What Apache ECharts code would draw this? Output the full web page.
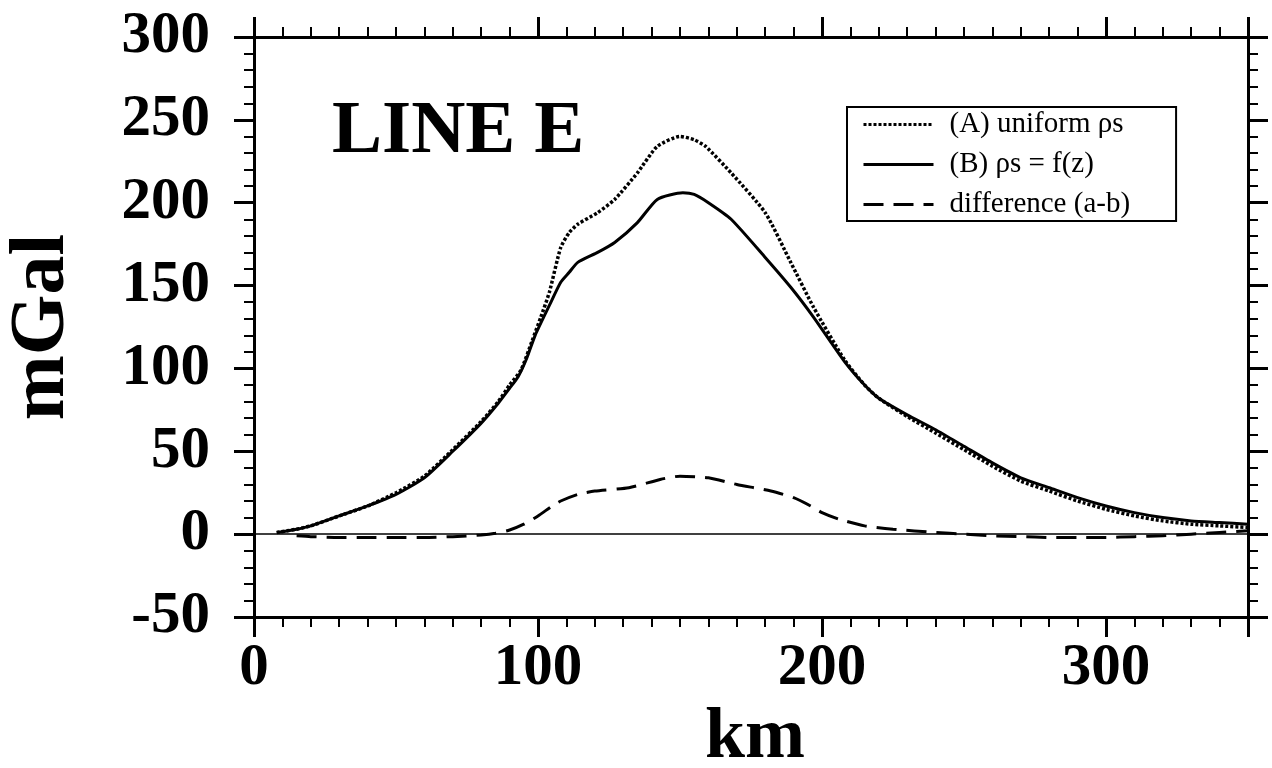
<!DOCTYPE html>
<html>
<head>
<meta charset="utf-8">
<title>LINE E</title>
<script src="https://cdn.jsdelivr.net/npm/echarts@6/dist/echarts.min.js"></script>
<style>
	html, body { margin: 0; padding: 0; background: #fff; }
	#main { width: 1272px; height: 768px; }
</style>
</head>
<body>
<div id="main"></div>
<script>
//数据
var kmA = [8, 15, 20, 30, 40, 50, 60, 70, 80, 86, 90, 94, 98, 101, 104, 108, 111, 114, 121, 127, 135, 142, 150, 155, 159, 168, 180, 189, 197, 208, 215, 220, 230, 240, 250, 260, 270, 280, 290, 300, 310, 320, 330, 340, 350];
var valA = [1, 3, 5, 11, 17, 25, 35, 51, 68, 80, 90, 99, 117, 131, 146, 173, 182, 187, 194, 202, 218, 234, 240, 238, 234, 218, 194, 164, 137, 105, 90, 82, 71, 61, 51, 41, 32, 26, 20, 15, 11, 8, 6, 5, 4];

var kmB = [8, 15, 20, 30, 40, 50, 60, 70, 80, 86, 90, 93, 96, 99, 104, 108, 111, 114, 121, 127, 135, 142, 151, 155, 160, 168, 180, 189, 197, 208, 215, 220, 230, 240, 250, 260, 270, 280, 290, 300, 310, 320, 330, 340, 350];
var valB = [1, 3, 5, 11, 17, 24, 34, 50, 67, 79, 88, 95, 106, 120, 138, 152, 158, 164, 170, 176, 188, 202, 206, 205, 200, 190, 167, 149, 131, 104, 90, 82, 72, 63, 53, 43, 34, 28, 22, 17, 13, 10, 8, 7, 6];

var kmD = [15, 20, 30, 40, 50, 60, 70, 80, 85, 90, 95, 100, 105, 108, 114, 120, 132, 143, 150, 160, 170, 182, 190, 196, 200, 206, 215, 225, 240, 250, 260, 270, 280, 290, 300, 310, 320, 330, 340, 350];
var valD = [-1, -1.5, -2, -2, -2, -2, -1.5, -0.5, 0.5, 2.5, 6, 11, 17, 20, 24, 26, 28, 33, 35, 34, 30, 26, 22, 17, 13, 9, 5, 3, 1, 0, -1, -1.5, -2, -2, -2, -1.5, -1, 0, 1, 2];

var names = ['(A) uniform ρs', '(B) ρs = f(z)', 'difference (a-b)'];

function pairs(xs, ys) {
	var out = [];
	for (var i = 0; i < xs.length; i++) out.push([xs[i], ys[i]]);
	return out;
}

var serif = '"Liberation Serif", "Times New Roman", serif';

// 坐标轴 (四边都有刻度)
function axis(type, pos, show) {
	var isX = type == 'x';
	return {
		type: 'value',
		position: pos,
		min: isX ? 0 : -50,
		max: isX ? 350 : 300,
		interval: isX ? 100 : 50,
		axisLine: { show: true, onZero: false, lineStyle: { color: '#000', width: 3 } },
		axisTick: { show: true, inside: false, length: 20, lineStyle: { color: '#000', width: 3 } },
		minorTick: { show: true, splitNumber: isX ? 10 : 5, length: 10, lineStyle: { color: '#000', width: 2 } },
		splitLine: { show: false },
		axisLabel: {
			show: show,
			showMaxLabel: !isX,
			margin: isX ? 22 : 44,
			color: '#000',
			fontFamily: serif,
			fontWeight: 'bold',
			fontSize: 59
		}
	};
}

var chart = echarts.init(document.getElementById('main'));
var option = {
	animation: false,
	backgroundColor: '#fff',
	grid: { left: 254, right: 24, top: 37, bottom: 151, containLabel: false, outerBoundsMode: 'none' },
	xAxis: [axis('x', 'bottom', true), axis('x', 'top', false)],
	yAxis: [axis('y', 'left', true), axis('y', 'right', false)],
	//图例
	legend: {
		orient: 'vertical',
		left: 847,
		top: 107,
		data: names,
		itemWidth: 70,
		itemHeight: 28,
		itemGap: 11,
		padding: [3, 46, 2, 15],
		borderColor: '#000',
		borderWidth: 2,
		borderRadius: 0,
		backgroundColor: '#fff',
		itemStyle: { opacity: 0 },
		lineStyle: { width: 3 },
		textStyle: { color: '#000', fontFamily: serif, fontSize: 29, padding: [0, 0, 0, 11] }
	},
	//文字
	graphic: [
		{ type: 'text', left: 332, top: 95, style: { text: 'LINE E', font: 'bold 75px ' + serif, fill: '#000' } },
		{ type: 'text', x: 755, y: 738, style: { text: 'km', font: 'bold 72px ' + serif, fill: '#000', align: 'center', verticalAlign: 'middle' } },
		{ type: 'text', x: 43, y: 327, rotation: Math.PI / 2, style: { text: 'mGal', font: 'bold 78px ' + serif, fill: '#000', align: 'center', verticalAlign: 'middle' } }
	],
	series: [
		{
			name: names[0],
			type: 'line',
			data: pairs(kmA, valA),
			symbol: 'none',
			smooth: 0.2,
			lineStyle: { color: '#000', width: 3.5, type: [3, 2] },
			itemStyle: { color: '#000' }
		},
		{
			name: names[1],
			type: 'line',
			data: pairs(kmB, valB),
			symbol: 'none',
			smooth: 0.2,
			lineStyle: { color: '#000', width: 3, type: 'solid' },
			itemStyle: { color: '#000' },
			markLine: {
				silent: true,
				symbol: 'none',
				label: { show: false },
				lineStyle: { color: '#000', width: 1.5, type: 'solid' },
				data: [{ yAxis: 0 }]
			}
		},
		{
			name: names[2],
			type: 'line',
			data: pairs(kmD, valD),
			symbol: 'none',
			smooth: 0.2,
			lineStyle: { color: '#000', width: 3, type: [20, 10] },
			itemStyle: { color: '#000' }
		}
	]
};
chart.setOption(option);
window.onresize = chart.resize;
</script>
</body>
</html>
